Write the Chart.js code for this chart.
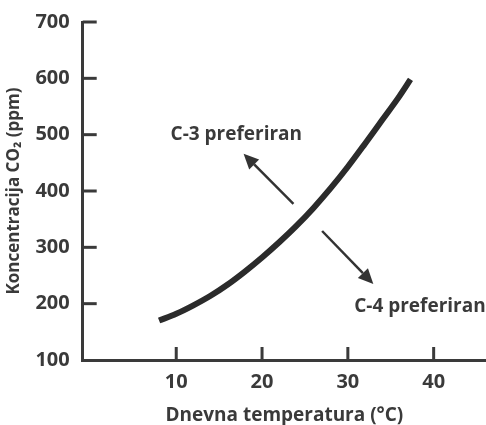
<!DOCTYPE html>
<html>
<head>
<meta charset="utf-8">
<script src="https://cdn.jsdelivr.net/npm/chart.js@4"></script>
<style>
  html, body { margin: 0; padding: 0; background: #fff; }
  #wrap { width: 486px; height: 425px; }
</style>
</head>
<body>
<div id="wrap"><canvas id="co2Chart"></canvas></div>
<script>
// podaci očitani sa slike
const temperature = [8, 10, 12, 14, 16, 18, 20, 22, 24, 26, 28, 30, 32, 34, 36, 37.3];
const koncentracija = [170, 182, 197, 214, 234, 257, 282, 309, 338, 370, 405, 443, 484, 526, 568, 598];
const xTicks = [10, 20, 30, 40];
const yTicks = [100, 200, 300, 400, 500, 600, 700];

// oznake i strelice (u koordinatama podataka)
const oznake = [
    { text: 'C-3 preferiran', x: 17.0, y: 501 },
    { text: 'C-4 preferiran', x: 38.4, y: 194 }
];
const strelice = [
    { from: [23.66, 377], to: [17.85, 466] },
    { from: [27.0, 329], to: [32.97, 235] }
];

const INK = '#3a3a3a';
const FONT = "'Open Sans', sans-serif";

const annotationPlugin = {
    id: 'annotations',
    afterDraw(chart) {
        const ctx = chart.ctx;
        const xs = chart.scales.x;
        const ys = chart.scales.y;
        ctx.save();

        // unutrašnje oznake na osama
        ctx.strokeStyle = INK;
        ctx.lineWidth = 3;
        ctx.lineCap = 'butt';
        yTicks.slice(1).forEach(v => {
            const py = ys.getPixelForValue(v);
            ctx.beginPath();
            ctx.moveTo(xs.left, py);
            ctx.lineTo(xs.left + 14, py);
            ctx.stroke();
        });
        xTicks.forEach(v => {
            const px = xs.getPixelForValue(v);
            ctx.beginPath();
            ctx.moveTo(px, ys.bottom);
            ctx.lineTo(px, ys.bottom - 13);
            ctx.stroke();
        });

        // strelice
        ctx.strokeStyle = '#333';
        ctx.fillStyle = '#333';
        strelice.forEach(s => {
            const x1 = xs.getPixelForValue(s.from[0]);
            const y1 = ys.getPixelForValue(s.from[1]);
            const x2 = xs.getPixelForValue(s.to[0]);
            const y2 = ys.getPixelForValue(s.to[1]);
            const ang = Math.atan2(y2 - y1, x2 - x1);
            const headLen = 15, headW = 7;
            const bx = x2 - headLen * Math.cos(ang);
            const by = y2 - headLen * Math.sin(ang);
            ctx.lineWidth = 2.5;
            ctx.beginPath();
            ctx.moveTo(x1, y1);
            ctx.lineTo(bx, by);
            ctx.stroke();
            ctx.beginPath();
            ctx.moveTo(x2, y2);
            ctx.lineTo(bx + headW * Math.sin(ang), by - headW * Math.cos(ang));
            ctx.lineTo(bx - headW * Math.sin(ang), by + headW * Math.cos(ang));
            ctx.closePath();
            ctx.fill();
        });

        // tekst
        ctx.fillStyle = INK;
        ctx.font = 'bold 19px ' + FONT;
        ctx.textAlign = 'center';
        ctx.textBaseline = 'middle';
        oznake.forEach(o => {
            ctx.fillText(o.text, xs.getPixelForValue(o.x), ys.getPixelForValue(o.y));
        });
        ctx.restore();
    }
};

const ctx = document.getElementById('co2Chart').getContext('2d');
const co2Chart = new Chart(ctx, {
    type: 'line',
    data: {
        datasets: [{
            data: temperature.map((t, i) => ({ x: t, y: koncentracija[i] })),
            borderColor: '#2b2b2b',
            borderWidth: 6,
            pointRadius: 0,
            cubicInterpolationMode: 'monotone',
            fill: false
        }]
    },
    options: {
        responsive: true,
        maintainAspectRatio: false,
        animation: false,
        layout: { padding: { top: 22, right: 0, left: 4, bottom: 0 } },
        plugins: {
            legend: { display: false },
            tooltip: { enabled: false }
        },
        scales: {
            x: {
                type: 'linear',
                min: -0.9,
                max: 46.1,
                afterBuildTicks: axis => { axis.ticks = xTicks.map(v => ({ value: v })); },
                grid: { display: false },
                border: { display: true, color: INK, width: 3 },
                ticks: { color: INK, font: { family: FONT, size: 20, weight: 'bold', lineHeight: 1.0 }, padding: 4 },
                title: {
                    display: true,
                    text: 'Dnevna temperatura (°C)',
                    color: INK,
                    font: { family: FONT, size: 19, weight: 'bold', lineHeight: 1.0 },
                    padding: { top: 10, bottom: 0 }
                }
            },
            y: {
                min: 100,
                max: 700,
                afterBuildTicks: axis => { axis.ticks = yTicks.map(v => ({ value: v })); },
                grid: { display: false },
                border: { display: true, color: INK, width: 3 },
                ticks: { color: INK, font: { family: FONT, size: 20, weight: 'bold' }, padding: 5 },
                title: {
                    display: true,
                    text: 'Koncentracija CO₂ (ppm)',
                    color: INK,
                    font: { family: FONT, size: 17, weight: 'bold' },
                    padding: { top: 0, bottom: 6 }
                }
            }
        }
    },
    plugins: [annotationPlugin]
});
</script>
</body>
</html>
